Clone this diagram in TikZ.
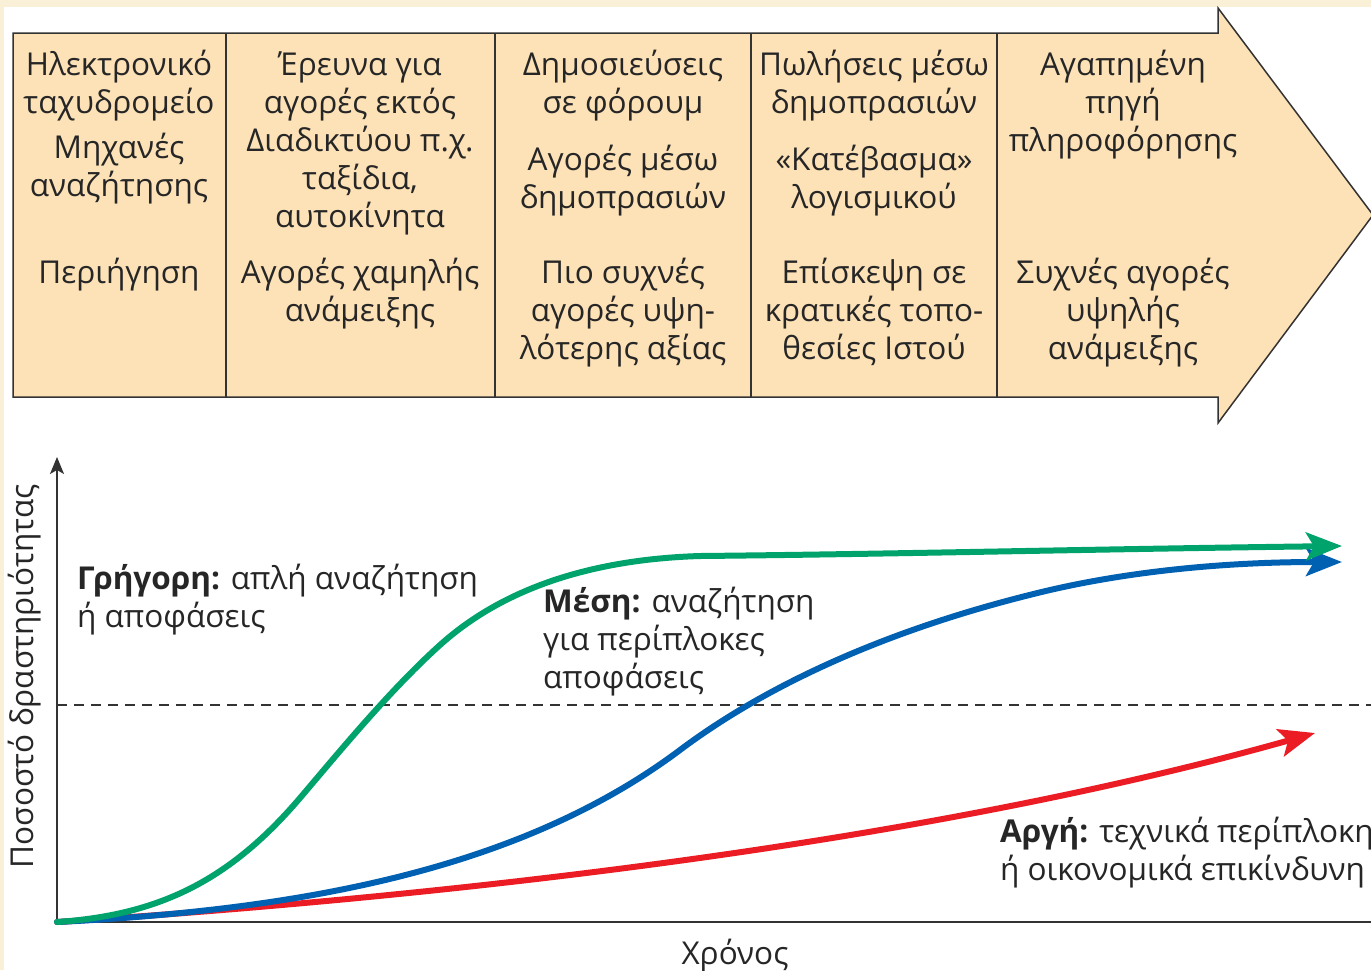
\documentclass[tikz,border=0pt]{standalone}
\usepackage{fontspec}
\setmainfont{Open Sans}
\usetikzlibrary{arrows.meta,positioning}

\definecolor{pagecream}{HTML}{FAF0D8}
\definecolor{boxfill}{HTML}{FDE2B8}
\definecolor{framegray}{HTML}{333333}
\definecolor{fastgreen}{HTML}{00A36C}
\definecolor{midblue}{HTML}{0061B2}
\definecolor{slowred}{HTML}{EC1C24}

\tikzset{
  cell/.style={align=center, anchor=base, inner sep=0pt, text=black!85, font=\fontsize{31.5}{38}\selectfont},
  note/.style={align=left, anchor=base west, inner sep=0pt, text=black!85, font=\fontsize{31.5}{38}\selectfont},
  curve/.style={line width=6pt, line cap=round, -{Stealth[length=36pt,width=28pt,inset=8pt]}},
  frame/.style={draw=framegray, line width=1.5pt},
}

\begin{document}
\begin{tikzpicture}[x=1pt,y=-1pt]
		\useasboundingbox (0,0) rectangle (1371,970);
		\fill[pagecream] (0,0) rectangle (1371,970);
		\fill[white] (4,7) rectangle (1371,970);
		% big arrow with the five stages (anchor base = last line)
		\draw[frame, fill=boxfill] (13,33) -- (1218,33) -- (1218,8) -- (1373,215) -- (1218,423) -- (1218,397) -- (13,397) -- cycle;
		\foreach \x in {226,495,751,997}
			\draw[frame] (\x,33) -- (\x,397);
		\node[cell] (mail) at (119,113) {Ηλεκτρονικό\\ταχυδρομείο};
		\node[cell] (engines) at (119,196) {Μηχανές\\αναζήτησης};
		\node[cell] (browse) at (119,283) {Περιήγηση};
		\node[cell] (research) at (360,227) {Έρευνα για\\αγορές εκτός\\Διαδικτύου π.χ.\\ταξίδια,\\αυτοκίνητα};
		\node[cell] (lowbuy) at (360,321) {Αγορές χαμηλής\\ανάμειξης};
		\node[cell] (forum) at (623,113) {Δημοσιεύσεις\\σε φόρουμ};
		\node[cell] (auctbuy) at (623,208) {Αγορές μέσω\\δημοπρασιών};
		\node[cell] (oftenbuy) at (623,359) {Πιο συχνές\\αγορές υψη-\\λότερης αξίας};
		\node[cell] (auctsell) at (874,113) {Πωλήσεις μέσω\\δημοπρασιών};
		\node[cell] (download) at (874,208) {«Κατέβασμα»\\λογισμικού};
		\node[cell] (govsites) at (874,359) {Επίσκεψη σε\\κρατικές τοπο-\\θεσίες Ιστού};
		\node[cell] (favsource) at (1123,151) {Αγαπημένη\\πηγή\\πληροφόρησης};
		\node[cell] (highbuy) at (1123,359) {Συχνές αγορές\\υψηλής\\ανάμειξης};
		% axes
		\coordinate (origin) at (57,922);
		\coordinate (ytop) at (57,457);
		\coordinate (xend) at (1392,922);
		\draw[frame, -{Stealth[length=17pt,width=14pt,inset=4pt]}] (origin) -- (ytop);
		\draw[frame, -{Stealth[length=17pt,width=14pt,inset=4pt]}] (origin) -- (xend);
		\draw[framegray, line width=1.2pt, dash pattern=on 10pt off 7pt] (57,705) -- (1371,705);
		\node[font=\fontsize{31.5}{38}\selectfont, text=black!85, rotate=90, anchor=base, inner sep=0pt] (ylabel) at (33,676) {Ποσοστό δραστηριότητας};
		\node[font=\fontsize{31.5}{38}\selectfont, text=black!85, anchor=base, inner sep=0pt] (xlabel) at (735,964) {Χρόνος};
		% the three curves
		\draw[curve, slowred] (origin) .. controls (400,900) and (900,850) .. (1315,733);
		\draw[curve, midblue] (origin) .. controls (300,910) and (520,870) .. (680,750)
			.. controls (760,690) and (880,630) .. (1050,590)
			.. controls (1150,567) and (1250,562) .. (1342,562);
		\draw[curve, fastgreen] (origin) .. controls (160,915) and (230,880) .. (300,798)
			.. controls (340,751) and (390,690) .. (440,645)
			.. controls (490,600) and (570,560) .. (700,556)
			.. controls (900,554) and (1100,549) .. (1342,546);
		\node[note] (fastnote) at (77,627) {\textbf{Γρήγορη:} απλή αναζήτηση\\ή αποφάσεις};
		\node[note] (midnote) at (543,688) {\textbf{Μέση:} αναζήτηση\\για περίπλοκες\\αποφάσεις};
		\node[note] (slownote) at (1000,880) {\textbf{Αργή:} τεχνικά περίπλοκη\\ή οικονομικά επικίνδυνη};
\end{tikzpicture}
\end{document}
